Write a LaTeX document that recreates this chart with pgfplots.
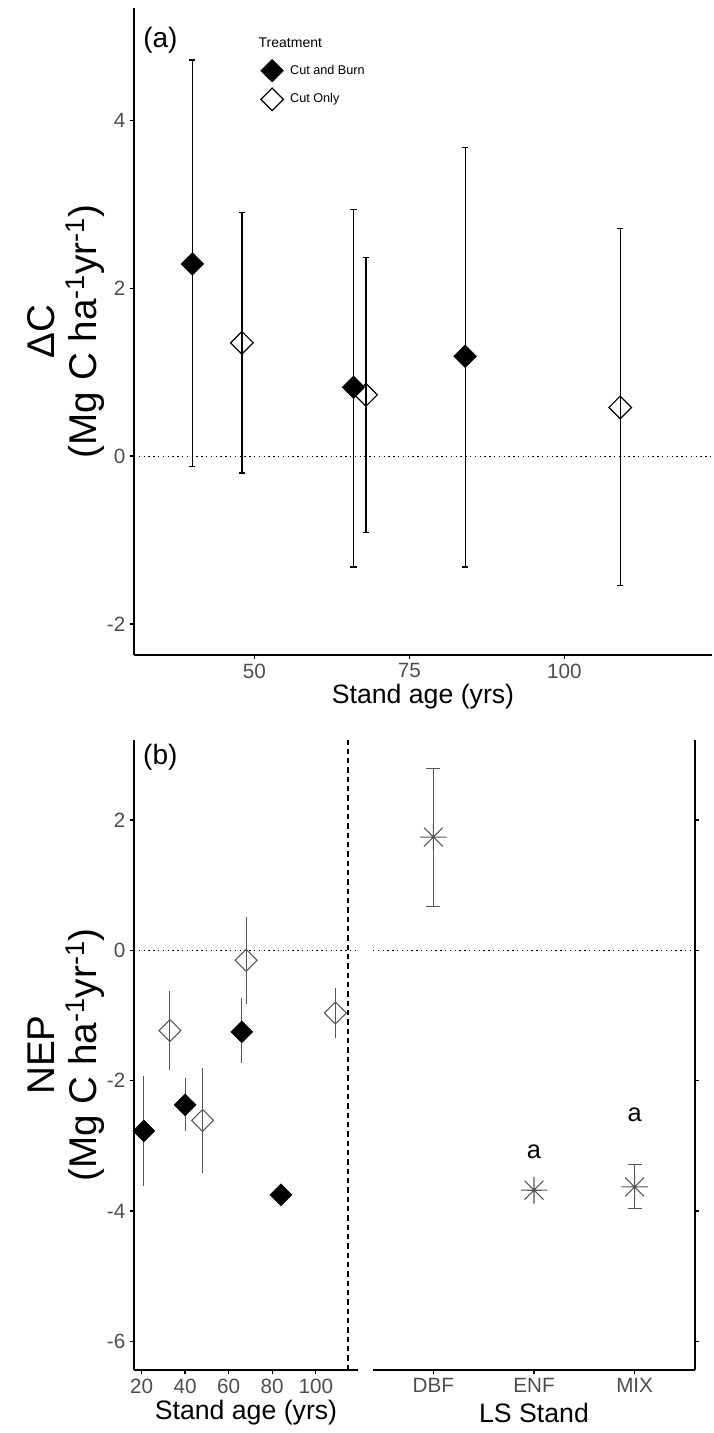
\documentclass[border=0pt]{standalone}
\usepackage{pgfplots}
\pgfplotsset{compat=1.18}
\usepackage{fontspec}
\setmainfont{Liberation Sans}

\definecolor{tickgray}{HTML}{4D4D4D}
\definecolor{ptgray}{HTML}{555555}

% ggplot shape 8: a plus and a cross on top of each other
\pgfdeclareplotmark{ggstar}{%
  \pgfpathmoveto{\pgfqpoint{-\pgfplotmarksize}{0pt}}%
  \pgfpathlineto{\pgfqpoint{\pgfplotmarksize}{0pt}}%
  \pgfpathmoveto{\pgfqpoint{0pt}{-\pgfplotmarksize}}%
  \pgfpathlineto{\pgfqpoint{0pt}{\pgfplotmarksize}}%
  \pgfpathmoveto{\pgfqpoint{-.7071\pgfplotmarksize}{-.7071\pgfplotmarksize}}%
  \pgfpathlineto{\pgfqpoint{.7071\pgfplotmarksize}{.7071\pgfplotmarksize}}%
  \pgfpathmoveto{\pgfqpoint{-.7071\pgfplotmarksize}{.7071\pgfplotmarksize}}%
  \pgfpathlineto{\pgfqpoint{.7071\pgfplotmarksize}{-.7071\pgfplotmarksize}}%
  \pgfusepathqstroke}

\pgfplotsset{
  ggbase/.style={
    scale only axis, clip=false,
    axis line style={-, line width=1pt, black},
    tick style={line width=1pt, black},
    tick align=outside, major tick length=3pt,
    ticklabel style={font=\fontsize{15.5}{15.5}\selectfont, text=tickgray},
    xlabel style={font=\fontsize{20}{20}\selectfont},
    ylabel style={font=\fontsize{29}{32}\selectfont, align=center,
      anchor=south, inner sep=0pt, rotate=0},
  },
  zeroline/.style={forget plot, line width=0.7pt, dash pattern=on 1pt off 2.6pt},
}

\begin{document}
\begin{tikzpicture}
\useasboundingbox (0,0) rectangle (534.75pt,-1074.75pt);

% ---------------- panel (a)
\begin{axis}[ggbase,
  at={(100.5pt,-491.25pt)}, anchor=south west,
  width=433.5pt, height=485.25pt,
  axis x line*=bottom, axis y line*=left,
  xmin=30.6, xmax=123.8, ymin=-2.37, ymax=5.34,
  xtick={50,75,100}, xticklabels={50,75,100},
  ytick={-2,0,2,4}, yticklabels={-2,0,2,4},
  xlabel={Stand age (yrs)},
  xlabel style={at={(axis description cs:0.5,0)}, anchor=center, yshift=-31.5pt},
  ylabel={ΔC\\(Mg C ha\textsuperscript{-1}yr\textsuperscript{-1})},
  ylabel style={at={(axis description cs:-0.05,0.5)}},
  legend style={at={(0.212,0.925)}, anchor=north west, draw=none, fill=none,
    font=\fontsize{9.5}{10}\selectfont, row sep=4.5pt, column sep=3pt},
  legend cell align=left,
]
\addplot[zeroline] coordinates {(30.6,0) (123.8,0)};
\addplot[only marks, mark=square*, mark size=6pt,
  mark options={rotate=45, fill=black, draw=black},
  error bars/.cd, y dir=both, y explicit,
  error bar style={line width=1pt, black},
  error mark options={rotate=90, line width=1pt, black, mark size=2.4pt}]
  table[x=x, y=y, y error plus=ep, y error minus=em] {
x   y    ep   em
40  2.29 2.43 2.41
66  0.82 2.12 2.14
84  1.19 2.49 2.51
};
\addlegendentry{Cut and Burn}
\addplot[only marks, mark=square, mark size=6pt,
  mark options={rotate=45, draw=black, line width=0.9pt},
  error bars/.cd, y dir=both, y explicit,
  error bar style={line width=1pt, black},
  error mark options={rotate=90, line width=1pt, black, mark size=2.4pt}]
  table[x=x, y=y, y error plus=ep, y error minus=em] {
x   y    ep   em
48  1.35 1.55 1.55
68  0.73 1.64 1.64
109 0.58 2.13 2.12
};
\addlegendentry{Cut Only}
\node[anchor=west, font=\fontsize{21}{21}\selectfont] at (rel axis cs:0.008,0.95) {(a)};
\node[anchor=west, font=\fontsize{10.5}{11}\selectfont] at (rel axis cs:0.2076,0.947) {Treatment};
\end{axis}

% ---------------- panel (b), stand age
\begin{axis}[ggbase,
  at={(100.5pt,-1027.5pt)}, anchor=south west,
  width=168pt, height=472.5pt,
  axis x line*=bottom, axis y line*=left,
  xmin=16.5, xmax=119.4, ymin=-6.44, ymax=3.23,
  xtick={20,40,60,80,100}, xticklabels={20,40,60,80,100},
  ytick={-6,-4,-2,0,2}, yticklabels={-6,-4,-2,0,2},
  xlabel={Stand age (yrs)},
  xlabel style={at={(axis description cs:0.5,0)}, anchor=center, yshift=-32pt},
  ylabel={NEP\\(Mg C ha\textsuperscript{-1}yr\textsuperscript{-1})},
  ylabel style={at={(axis description cs:-0.129,0.5)}},
]
\addplot[zeroline] coordinates {(16.5,0) (119.4,0)};
\addplot[forget plot, line width=0.9pt, dash pattern=on 4pt off 3pt]
  coordinates {(114.8,-6.44) (114.8,3.23)};
\addplot[only marks, mark=square, mark size=5.8pt,
  mark options={rotate=45, draw=ptgray, line width=0.8pt},
  error bars/.cd, y dir=both, y explicit, error mark=none,
  error bar style={line width=0.8pt, ptgray}]
  table[x=x, y=y, y error plus=ep, y error minus=em] {
x   y     ep   em
33  -1.23 0.61 0.60
48  -2.61 0.81 0.81
68  -0.15 0.66 0.67
109 -0.96 0.39 0.38
};
\addplot[only marks, mark=square*, mark size=5.8pt,
  mark options={rotate=45, fill=black, draw=black},
  error bars/.cd, y dir=both, y explicit, error mark=none,
  error bar style={line width=0.8pt, ptgray}]
  table[x=x, y=y, y error plus=ep, y error minus=em] {
x   y     ep   em
21  -2.77 0.85 0.85
40  -2.37 0.41 0.40
66  -1.25 0.52 0.48
84  -3.75 0    0
};
\node[anchor=west, font=\fontsize{21}{21}\selectfont] at (rel axis cs:0.02,0.973) {(b)};
\end{axis}

% ---------------- panel (b), LS stand
\begin{axis}[ggbase,
  at={(279.75pt,-1027.5pt)}, anchor=south west,
  width=241.5pt, height=472.5pt,
  axis x line*=bottom, axis y line*=right,
  xmin=0.4, xmax=3.6, ymin=-6.44, ymax=3.23,
  xtick={1,2,3}, xticklabels={DBF,ENF,MIX},
  ytick={-6,-4,-2,0,2}, yticklabels={},
  xlabel={LS Stand},
  xlabel style={at={(axis description cs:0.5,0)}, anchor=center, yshift=-32pt},
]
\addplot[zeroline] coordinates {(0.4,0) (3.6,0)};
\addplot[only marks, mark=ggstar, mark size=10pt,
  mark options={draw=ptgray, line width=0.8pt},
  error bars/.cd, y dir=both, y explicit,
  error bar style={line width=0.8pt, ptgray},
  error mark options={rotate=90, line width=0.8pt, ptgray, mark size=5.25pt}]
  table[x=x, y=y, y error plus=ep, y error minus=em] {
x  y     ep   em
1  1.74  1.05 1.07
2  -3.68 0    0
3  -3.63 0.35 0.33
};
\node[font=\fontsize{19}{19}\selectfont] at (axis cs:2,-3.09) {a};
\node[font=\fontsize{19}{19}\selectfont] at (axis cs:3,-2.53) {a};
\end{axis}
\end{tikzpicture}
\end{document}
